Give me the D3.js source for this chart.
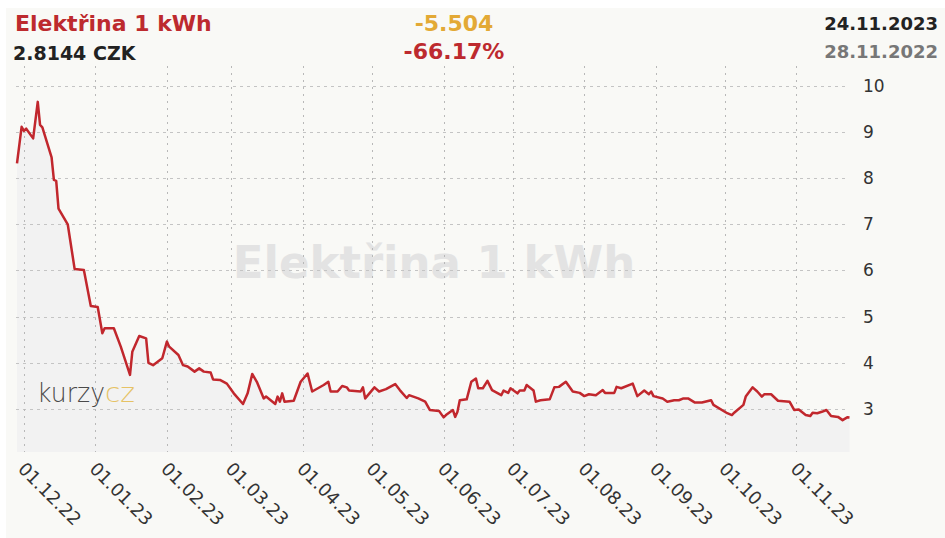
<!DOCTYPE html>
<html>
<head>
<meta charset="utf-8">
<script src="https://cdn.jsdelivr.net/npm/d3@7"></script>
<style>
  body { margin: 0; background: #fff; }
  svg { display: block; }
</style>
</head>
<body>
<div id="chart"></div>
<script>
// daily price of 1 kWh (CZK)
const dates = [
  "2022-11-28","2022-11-30","2022-12-01","2022-12-02","2022-12-05","2022-12-07","2022-12-08","2022-12-09",
  "2022-12-13","2022-12-14","2022-12-15","2022-12-16","2022-12-20","2022-12-23","2022-12-27","2022-12-30",
  "2023-01-02","2023-01-04","2023-01-05","2023-01-09","2023-01-12","2023-01-16","2023-01-17","2023-01-20",
  "2023-01-23","2023-01-24","2023-01-26","2023-01-30","2023-02-01","2023-02-02","2023-02-06","2023-02-08",
  "2023-02-10","2023-02-13","2023-02-15","2023-02-17","2023-02-20","2023-02-21","2023-02-24","2023-02-27",
  "2023-03-02","2023-03-06","2023-03-08","2023-03-10","2023-03-12","2023-03-15","2023-03-16","2023-03-20",
  "2023-03-21","2023-03-22","2023-03-23","2023-03-24","2023-03-28","2023-03-31","2023-04-03","2023-04-05",
  "2023-04-10","2023-04-12","2023-04-13","2023-04-16","2023-04-18","2023-04-20","2023-04-21","2023-04-26",
  "2023-04-27","2023-04-28","2023-05-02","2023-05-04","2023-05-07","2023-05-11","2023-05-13","2023-05-16",
  "2023-05-17","2023-05-21","2023-05-24","2023-05-26","2023-05-30","2023-06-01","2023-06-02","2023-06-05",
  "2023-06-06","2023-06-07","2023-06-08","2023-06-11","2023-06-13","2023-06-15","2023-06-16","2023-06-18",
  "2023-06-20","2023-06-22","2023-06-26","2023-06-27","2023-06-29","2023-06-30","2023-07-03","2023-07-04",
  "2023-07-06","2023-07-07","2023-07-10","2023-07-11","2023-07-13","2023-07-17","2023-07-19","2023-07-21",
  "2023-07-24","2023-07-27","2023-07-30","2023-08-01","2023-08-03","2023-08-06","2023-08-09","2023-08-10",
  "2023-08-14","2023-08-15","2023-08-17","2023-08-22","2023-08-24","2023-08-27","2023-08-29","2023-08-30",
  "2023-08-31","2023-09-04","2023-09-06","2023-09-09","2023-09-11","2023-09-13","2023-09-15","2023-09-18",
  "2023-09-21","2023-09-25","2023-09-26","2023-10-02","2023-10-04","2023-10-05","2023-10-09","2023-10-10",
  "2023-10-13","2023-10-15","2023-10-17","2023-10-18","2023-10-21","2023-10-24","2023-10-29","2023-10-31",
  "2023-11-02","2023-11-05","2023-11-07","2023-11-08","2023-11-10","2023-11-12","2023-11-14","2023-11-16",
  "2023-11-19","2023-11-21","2023-11-23","2023-11-24"
];
const values = [
  8.318,9.11,9.02,9.07,8.86,9.65,9.15,9.10,
  8.45,7.96,7.94,7.34,7.00,6.03,6.01,5.23,
  5.21,4.64,4.75,4.75,4.35,3.74,4.24,4.58,
  4.53,4.00,3.95,4.10,4.46,4.35,4.17,3.95,
  3.92,3.81,3.88,3.81,3.79,3.64,3.63,3.55,
  3.34,3.11,3.34,3.76,3.59,3.23,3.27,3.11,
  3.27,3.16,3.34,3.16,3.18,3.59,3.77,3.38,
  3.52,3.59,3.38,3.38,3.50,3.47,3.40,3.38,
  3.47,3.23,3.47,3.38,3.43,3.54,3.41,3.24,
  3.30,3.23,3.16,2.98,2.96,2.82,2.87,2.98,
  2.83,2.94,3.19,3.21,3.59,3.66,3.45,3.45,
  3.61,3.41,3.30,3.40,3.35,3.45,3.34,3.40,
  3.40,3.52,3.40,3.16,3.19,3.21,3.47,3.48,
  3.59,3.38,3.35,3.28,3.32,3.30,3.41,3.35,
  3.35,3.48,3.45,3.55,3.28,3.40,3.32,3.38,
  3.28,3.23,3.16,3.19,3.19,3.23,3.23,3.14,
  3.14,3.19,3.09,2.91,2.87,2.92,3.09,3.27,
  3.47,3.38,3.27,3.32,3.32,3.18,3.16,2.98,
  2.99,2.87,2.85,2.92,2.91,2.94,2.98,2.85,
  2.83,2.76,2.82,2.8144
];
const yTicks = [3, 4, 5, 6, 7, 8, 9, 10];
const monthTicks = ["2022-12-01","2023-01-01","2023-02-01","2023-03-01","2023-04-01","2023-05-01",
  "2023-06-01","2023-07-01","2023-08-01","2023-09-01","2023-10-01","2023-11-01"];

const title = "Elektřina 1 kWh";
const lastPrice = "2.8144 CZK";
const change = "-5.504";
const changePct = "-66.17%";
const dateTo = "24.11.2023";
const dateFrom = "28.11.2022";

const width = 945, height = 538;
const parse = d3.timeParse("%Y-%m-%d");
const data = dates.map((d, i) => ({ date: parse(d), value: values[i] }));
const ticks = monthTicks.map(parse);

const x = d3.scaleTime()
  .domain([parse(dates[0]), parse(dates[dates.length - 1])])
  .range([17, 849.5]);
const y = d3.scaleLinear()
  .domain([2.07, 10.34])
  .range([452, 70]);

const svg = d3.select("#chart").append("svg")
  .attr("width", width)
  .attr("height", height);

svg.append("rect")
  .attr("x", 6).attr("y", 8)
  .attr("width", width - 6).attr("height", height - 8)
  .attr("fill", "#f9f9f6");

// watermark
svg.append("text")
  .attr("x", 434).attr("y", 278)
  .attr("text-anchor", "middle")
  .attr("font-family", "DejaVu Sans")
  .attr("font-weight", "bold")
  .attr("font-size", 45)
  .attr("fill", "#e3e3e3")
  .text(title);

// area under the line
const area = d3.area()
  .x(d => x(d.date))
  .y0(y(2.07))
  .y1(d => y(d.value));
svg.append("path")
  .datum(data)
  .attr("d", area)
  .attr("fill", "#f2f2f2");

// grid
svg.append("g")
  .selectAll("line")
  .data(yTicks)
  .join("line")
  .attr("x1", 16).attr("x2", 847)
  .attr("y1", d => Math.round(y(d)) + 0.5)
  .attr("y2", d => Math.round(y(d)) + 0.5)
  .attr("stroke", "#c4c4c4")
  .attr("stroke-dasharray", "3,4");

svg.append("g")
  .selectAll("line")
  .data(ticks)
  .join("line")
  .attr("x1", d => Math.round(x(d)) + 0.5)
  .attr("x2", d => Math.round(x(d)) + 0.5)
  .attr("y1", 66).attr("y2", 452)
  .attr("stroke", "#b8b8b8")
  .attr("stroke-dasharray", "2,5");

// line
const line = d3.line()
  .x(d => x(d.date))
  .y(d => y(d.value));
svg.append("path")
  .datum(data)
  .attr("d", line)
  .attr("fill", "none")
  .attr("stroke", "#c1272d")
  .attr("stroke-width", 2.5)
  .attr("stroke-linejoin", "round");

// y axis (right)
const yAxis = svg.append("g")
  .attr("transform", "translate(849,0)")
  .call(d3.axisRight(y).tickValues(yTicks).tickSize(0).tickPadding(14));
yAxis.select(".domain").remove();
yAxis.selectAll("text")
  .attr("font-family", "DejaVu Sans")
  .attr("font-size", 17)
  .attr("fill", "#333");

// x axis labels, rotated
const fmt = d3.timeFormat("%d.%m.%y");
svg.append("g")
  .selectAll("text")
  .data(ticks)
  .join("text")
  .attr("transform", d => `translate(${x(d) - 7},470) rotate(45)`)
  .attr("font-family", "DejaVu Sans")
  .attr("font-size", 18)
  .attr("fill", "#333")
  .text(d => fmt(d));

// logo
svg.append("text")
  .attr("x", 37).attr("y", 402)
  .attr("font-family", "DejaVu Sans")
  .attr("font-weight", 200)
  .attr("font-size", 26)
  .attr("fill", "#4a4a4a")
  .attr("textLength", 68)
  .attr("lengthAdjust", "spacingAndGlyphs")
  .text("kurzy");
svg.append("text")
  .attr("x", 105).attr("y", 402)
  .attr("font-family", "DejaVu Sans")
  .attr("font-weight", 200)
  .attr("font-size", 26)
  .attr("fill", "#e6c265")
  .attr("textLength", 30)
  .attr("lengthAdjust", "spacingAndGlyphs")
  .text("cz");

// header
const head = svg.append("g")
  .attr("font-family", "DejaVu Sans")
  .attr("font-weight", "bold");
head.append("text").attr("x", 15).attr("y", 31)
  .attr("font-size", 22).attr("fill", "#bd2a2e").text(title);
head.append("text").attr("x", 13).attr("y", 60)
  .attr("font-size", 19).attr("fill", "#222").text(lastPrice);
head.append("text").attr("x", 454).attr("y", 31).attr("text-anchor", "middle")
  .attr("font-size", 22).attr("fill", "#e3a935").text(change);
head.append("text").attr("x", 454).attr("y", 59).attr("text-anchor", "middle")
  .attr("font-size", 22).attr("fill", "#bd2a2e").text(changePct);
head.append("text").attr("x", 938).attr("y", 30).attr("text-anchor", "end")
  .attr("font-size", 18).attr("fill", "#222").text(dateTo);
head.append("text").attr("x", 938).attr("y", 58).attr("text-anchor", "end")
  .attr("font-size", 18).attr("fill", "#777").text(dateFrom);
</script>
</body>
</html>
